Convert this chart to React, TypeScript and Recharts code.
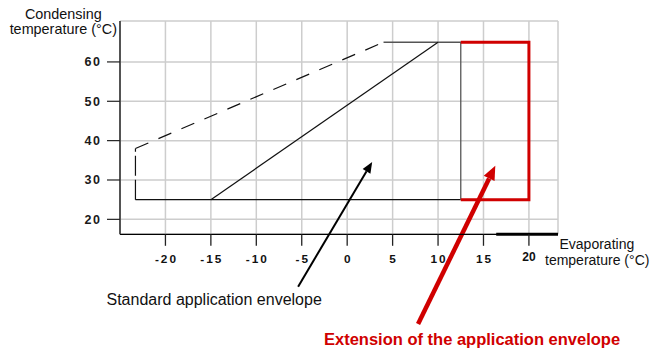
import React from "react";
import { LineChart, Line, XAxis, YAxis, CartesianGrid, ReferenceLine } from "recharts";

const evapTicks = [-20, -15, -10, -5, 0, 5, 10, 15, 20];
const condTicks = [20, 30, 40, 50, 60];

// standard application envelope (evaporating °C / condensing °C)
const baseEvap = [-23.3, 12.5];
const baseCond = [25, 25];
const sideEvap = [12.5, 12.5, 4];
const sideCond = [25, 65, 65];
const dashedSideEvap = [-23.3, -23.3];
const dashedSideCond = [25, 38];
const dashedTopEvap = [-23.3, 4];
const dashedTopCond = [38, 65];
const diagonalEvap = [-15, 10];
const diagonalCond = [25, 65];

// extension of the envelope
const extEvap = [12.5, 20, 20, 12.5];
const extCond = [65, 65, 25, 25];

// annotation arrows, tail -> head
const stdArrowEvap = [-5.4, 2.75];
const stdArrowCond = [2.9, 34.6];
const extArrowEvap = [7.8, 16.3];
const extArrowCond = [-6.6, 33.6];

const RED = "#d00000";

const pts = (xs: number[], ys: number[]) => xs.map((x, i) => ({ x, y: ys[i] }));

const arrow = (color: string, width: number, headLen: number, headW: number) => (props: any) => {
  const { x1, y1, x2, y2 } = props;
  const a = Math.atan2(y2 - y1, x2 - x1);
  const bx = x2 - headLen * Math.cos(a);
  const by = y2 - headLen * Math.sin(a);
  const px = (-Math.sin(a) * headW) / 2;
  const py = (Math.cos(a) * headW) / 2;
  return (
    <g>
      <line x1={x1} y1={y1} x2={bx} y2={by} stroke={color} strokeWidth={width} />
      <polygon points={`${x2},${y2} ${bx + px},${by + py} ${bx - px},${by - py}`} fill={color} />
    </g>
  );
};

const YTick = (props: any) => {
  const { x, y, payload } = props;
  return (
    <text x={x} y={y} dx={1.5} dy="0.36em" textAnchor="end" fontSize={12.5} fontWeight="bold"
      letterSpacing={1.5} fill="#1a1a1a" fontFamily="Liberation Sans, Arial, sans-serif">
      {payload.value}
    </text>
  );
};

const XTick = (props: any) => {
  const { x, y, payload } = props;
  const last = payload.value === 20;
  return (
    <text x={x} y={last ? y - 2 : y} dx={last ? 0 : 1} dy="0.71em" textAnchor="middle"
      fontSize={last ? 12 : 11.8} fontWeight="bold" letterSpacing={last ? 0 : 2} fill="#111"
      fontFamily="Liberation Sans, Arial, sans-serif">
      {payload.value}
    </text>
  );
};

export default function App() {
  const font = "Liberation Sans, Arial, sans-serif";
  return (
    <div style={{ width: 651, height: 349, background: "#fff" }}>
      <style>{"body{margin:0}"}</style>
      <LineChart width={651} height={349} margin={{ top: 21, right: 93, bottom: 84.7, left: 0 }}>
        <CartesianGrid stroke="#cdcdcd" strokeWidth={1.5} />
        <XAxis type="number" dataKey="x" domain={[-25, 23.2]} ticks={evapTicks} allowDataOverflow
          height={30} tickSize={11.5} tickMargin={9} tick={<XTick />}
          axisLine={{ stroke: "#000", strokeWidth: 1.2 }} tickLine={{ stroke: "#222", strokeWidth: 1.3 }} />
        <YAxis type="number" dataKey="y" domain={[16.2, 70.4]} ticks={condTicks} allowDataOverflow
          width={120} tickSize={13} tickMargin={7} tick={<YTick />}
          axisLine={{ stroke: "#333", strokeWidth: 1.6 }} tickLine={{ stroke: "#222", strokeWidth: 1.2 }} />

        <Line data={pts(baseEvap, baseCond)} dataKey="y" stroke="#111" strokeWidth={1.2} dot={false} isAnimationActive={false} />
        <Line data={pts(sideEvap, sideCond)} dataKey="y" stroke="#555" strokeWidth={1.3} dot={false} isAnimationActive={false} />
        <Line data={pts(dashedSideEvap, dashedSideCond)} dataKey="y" stroke="#111" strokeWidth={1.2}
          strokeDasharray="20 4" dot={false} isAnimationActive={false} />
        <Line data={pts(dashedTopEvap, dashedTopCond)} dataKey="y" stroke="#111" strokeWidth={1.2}
          strokeDasharray="14 11" dot={false} isAnimationActive={false} />
        <Line data={pts(diagonalEvap, diagonalCond)} dataKey="y" stroke="#111" strokeWidth={1.2} dot={false} isAnimationActive={false} />
        <Line data={pts(extEvap, extCond)} dataKey="y" stroke={RED} strokeWidth={3} dot={false} isAnimationActive={false} />

        <ReferenceLine segment={[{ x: 16.4, y: 16.2 }, { x: 23.2, y: 16.2 }]} stroke="#000" strokeWidth={3} ifOverflow="visible" />
        <ReferenceLine segment={pts(stdArrowEvap, stdArrowCond)} ifOverflow="visible" shape={arrow("#000", 2, 11, 9)} />
        <ReferenceLine segment={pts(extArrowEvap, extArrowCond)} ifOverflow="visible" shape={arrow(RED, 4.5, 14, 12)} />

        <text x={63.3} y={18.5} textAnchor="middle" fontSize={14.4} fontFamily={font} fill="#111">Condensing</text>
        <text x={63.3} y={33.5} textAnchor="middle" fontSize={14.4} fontFamily={font} fill="#111">temperature (°C)</text>
        <text x={559.5} y={248.5} fontSize={14} fontFamily={font} fill="#111">Evaporating</text>
        <text x={545} y={265} fontSize={14} fontFamily={font} fill="#111">temperature (°C)</text>
        <text x={106.5} y={304.5} fontSize={16} fontFamily={font} fill="#111">Standard application envelope</text>
        <text x={324} y={345} fontSize={16.5} fontWeight="bold" fontFamily={font} fill={RED}>Extension of the application envelope</text>
      </LineChart>
    </div>
  );
}
